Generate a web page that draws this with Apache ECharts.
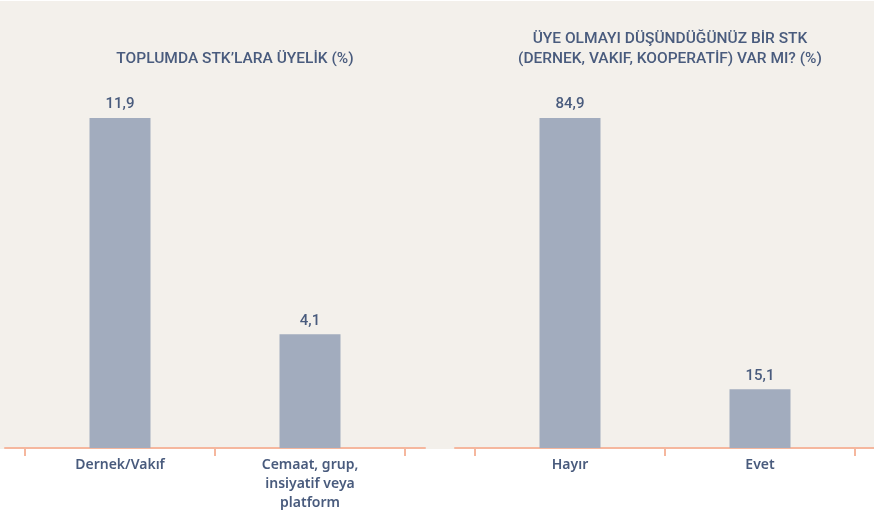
<!DOCTYPE html>
<html>
<head>
<meta charset="utf-8">
<script src="https://cdn.jsdelivr.net/npm/echarts@6/dist/echarts.min.js"></script>
<style>
  html, body { margin: 0; padding: 0; background: #fff; }
  #main { width: 874px; height: 516px; }
</style>
</head>
<body>
<div id="main"></div>
<script>
// sol grafik: toplumda STK'lara üyelik
let uyelikCats = ['Dernek/Vakıf', 'Cemaat, grup,\ninsiyatif veya\nplatform'];
let uyelikVals = [11.9, 4.1];
// sağ grafik: üye olmayı düşündüğünüz bir STK var mı
let dusunceCats = ['Hayır', 'Evet'];
let dusunceVals = [84.9, 15.1];

let title1 = 'TOPLUMDA STK’LARA ÜYELİK (%)';
let title2 = 'ÜYE OLMAYI DÜŞÜNDÜĞÜNÜZ BİR STK\n(DERNEK, VAKIF, KOOPERATİF) VAR MI? (%)';

const textColor = '#495b7d';
const barColor = '#a2acbe';
const axisColor = '#f5b79e';
const bg = '#f3f0eb';

// virgüllü ondalık
function trNum(v) {
	return String(v).replace('.', ',');
}

let myChart = echarts.init(document.getElementById('main'));

function barSeries(idx, vals) {
	return {
		type: 'bar',
		xAxisIndex: idx,
		yAxisIndex: idx,
		data: vals,
		barWidth: 61,
		itemStyle: { color: barColor },
		label: {
			show: true,
			position: 'top',
			distance: 6,
			color: textColor,
			fontFamily: 'Roboto',
			fontWeight: 500,
			fontSize: 15,
			formatter: p => trNum(p.value)
		},
		silent: true
	};
}

let catAxis = (idx, cats) => ({
	type: 'category',
	gridIndex: idx,
	data: cats,
	axisLine: { show: false },
	axisTick: { show: true, length: 8, lineStyle: { color: axisColor, width: 2 } },
	axisLabel: {
		color: textColor,
		fontFamily: 'Noto Sans',
		fontWeight: 600,
		fontSize: 14,
		lineHeight: 19,
		margin: 8,
		interval: 0
	}
});

let lineAxis = (idx) => ({
	type: 'category',
	gridIndex: idx,
	data: [''],
	axisLine: { show: true, lineStyle: { color: axisColor, width: 2 } },
	axisTick: { show: false },
	axisLabel: { show: false }
});

let valAxis = (idx) => ({
	type: 'value',
	gridIndex: idx,
	min: 0,
	max: 'dataMax',
	show: false
});

let titleStyle = { color: textColor, fontFamily: 'Roboto', fontWeight: 500, fontSize: 15.5, lineHeight: 20 };

let option = {
	backgroundColor: '#fff',
	animation: false,
	title: [
		{ text: title1, left: 230, top: 44, textAlign: 'center', textStyle: titleStyle },
		{ text: title2, left: 665, top: 24, textAlign: 'center', textStyle: titleStyle }
	],
	grid: [
		{ left: 25, width: 380, top: 118, bottom: 68 },
		{ left: 475, width: 380, top: 118, bottom: 68 },
		{ left: 5, width: 420, top: 118, bottom: 68 },
		{ left: 455, width: 419, top: 118, bottom: 68 },
		// bej arka plan
		{ left: 0, right: 0, top: 1, bottom: 67, show: true, backgroundColor: bg, borderWidth: 0, z: 0 }
	],
	xAxis: [
		catAxis(0, uyelikCats),
		catAxis(1, dusunceCats),
		lineAxis(2),
		lineAxis(3),
		{ type: 'category', gridIndex: 4, data: [''], show: false }
	],
	yAxis: [valAxis(0), valAxis(1), valAxis(2), valAxis(3), { type: 'value', gridIndex: 4, show: false }],
	series: [
		barSeries(0, uyelikVals),
		barSeries(1, dusunceVals)
	]
};

myChart.setOption(option);
</script>
</body>
</html>
